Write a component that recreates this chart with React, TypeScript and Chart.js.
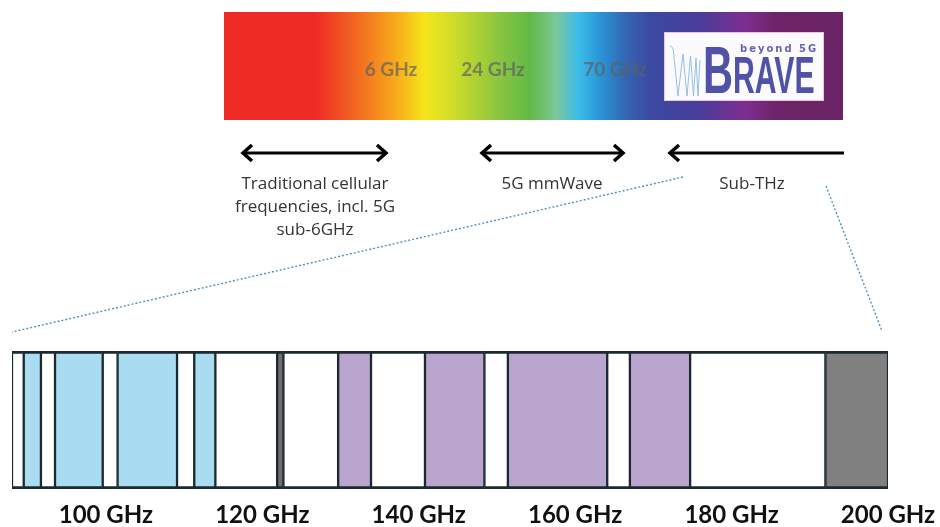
import React, { useEffect, useRef } from 'react';
import { Chart, registerables } from 'chart.js';

Chart.register(...registerables);

// ---- data ----
const bandEdges = [88, 89.5, 91.7, 93.5, 99.6, 101.5, 109.1, 111.3, 114.0, 121.9, 122.7, 129.7, 133.9, 140.8, 148.4, 151.4, 164.1, 167.0, 174.7, 192.0, 200];
const bandKinds = ['free', 'blue', 'free', 'blue', 'free', 'blue', 'free', 'blue', 'free', 'dark', 'free', 'purple', 'free', 'purple', 'free', 'purple', 'free', 'purple', 'free', 'gray'];
const tickValues = [100, 120, 140, 160, 180, 200];
const spectrumLabels = ['6 GHz', '24 GHz', '70 GHz'];
const rangeLabels = [['Traditional cellular', 'frequencies, incl. 5G', 'sub-6GHz'], ['5G mmWave'], ['Sub-THz']];

// ---- styles ----
const kindFill: Record<string, string> = {
  free: '#ffffff',
  blue: '#a9dcf1',
  purple: '#baa5cf',
  gray: '#808080',
  dark: '#6f6f6f',
};
const borderCol = '#1b2a30';

const gradStops: [number, string][] = [
  [224, '#ee2a24'], [315, '#ee2a24'], [358, '#f26b22'], [395, '#f8a81b'], [425, '#f5e61a'],
  [460, '#c6d92d'], [500, '#88c540'], [530, '#62b946'], [556, '#7dc79a'], [578, '#3cbde9'],
  [600, '#2a95d5'], [625, '#3467b3'], [650, '#3b4aa0'], [700, '#4a3c9a'], [745, '#7d2e90'],
  [775, '#6e2468'], [843, '#6a2466'],
];

const topPlugin = {
  id: 'topGraphic',
  afterDraw(chart: any) {
    const ctx: CanvasRenderingContext2D = chart.ctx;
    ctx.save();
    // rainbow
    const x0 = 224, x1 = 843, y0 = 12, y1 = 120;
    const g = ctx.createLinearGradient(x0, 0, x1, 0);
    gradStops.forEach(([x, c]) => g.addColorStop((x - x0) / (x1 - x0), c));
    ctx.fillStyle = g;
    ctx.fillRect(x0, y0, x1 - x0, y1 - y0);

    // frequency labels on rainbow
    ctx.font = 'bold 19px Lato';
    ctx.textAlign = 'center';
    ctx.textBaseline = 'middle';
    ctx.fillStyle = 'rgba(95,95,95,0.7)';
    const lx = [391, 493, 615];
    spectrumLabels.forEach((t, i) => ctx.fillText(t, lx[i], 70));

    // logo box
    ctx.fillStyle = '#fbfbfd';
    ctx.fillRect(664, 32, 160, 69);
    ctx.strokeStyle = '#efc3e2';
    ctx.lineWidth = 1;
    ctx.strokeRect(664.5, 32.5, 159, 68);
    // chirp wave
    ctx.strokeStyle = '#8ab8e0';
    ctx.lineWidth = 0.9;
    ctx.beginPath();
    ctx.moveTo(670, 46);
    ctx.quadraticCurveTo(673, 46, 673.5, 52);
    const xs = [673.5, 678, 683, 687, 690.5, 693.5, 696, 698, 700];
    for (let i = 1; i < xs.length; i++) {
      ctx.lineTo(xs[i], i % 2 === 1 ? 96 : 52 + i);
    }
    ctx.stroke();
    // beyond 5G
    ctx.fillStyle = '#6464b4';
    ctx.font = 'bold 10px "DejaVu Sans"';
    ctx.textAlign = 'left';
    ctx.textBaseline = 'alphabetic';
    (ctx as any).letterSpacing = '2px';
    ctx.fillText('beyond 5G', 740, 52);
    (ctx as any).letterSpacing = '0px';
    // BRAVE
    ctx.fillStyle = '#5052a8';
    ctx.save();
    ctx.translate(703, 93);
    ctx.scale(0.62, 1);
    ctx.font = 'bold 67px "Liberation Sans"';
    ctx.fillText('B', 0, 0);
    ctx.restore();
    ctx.save();
    ctx.translate(733, 93);
    ctx.scale(0.58, 1);
    ctx.font = 'bold 52px "Liberation Sans"';
    ctx.fillText('RAVE', 0, 0);
    ctx.restore();

    // arrows
    ctx.strokeStyle = '#000';
    ctx.lineWidth = 3;
    ctx.lineCap = 'butt';
    ctx.lineJoin = 'miter';
    const ay = 153;
    const arrows: [number, number, boolean, boolean][] = [[241, 388, true, true], [480, 625, true, true], [668, 844, true, false]];
    arrows.forEach(([a, b, hl, hr]) => {
      ctx.beginPath();
      ctx.moveTo(a + 2, ay);
      ctx.lineTo(hr ? b - 2 : b, ay);
      ctx.stroke();
      ctx.lineWidth = 3.5;
      if (hl) {
        ctx.beginPath();
        ctx.moveTo(a + 11, ay - 8);
        ctx.lineTo(a + 2, ay);
        ctx.lineTo(a + 11, ay + 8);
        ctx.stroke();
      }
      if (hr) {
        ctx.beginPath();
        ctx.moveTo(b - 11, ay - 8);
        ctx.lineTo(b - 2, ay);
        ctx.lineTo(b - 11, ay + 8);
        ctx.stroke();
      }
      ctx.lineWidth = 3;
    });

    // range texts
    ctx.fillStyle = '#333333';
    ctx.font = '17px "Open Sans"';
    ctx.textAlign = 'center';
    ctx.textBaseline = 'middle';
    const tx = [315, 552, 752];
    rangeLabels.forEach((lines, i) => {
      lines.forEach((ln, j) => ctx.fillText(ln, tx[i], 184 + j * 23));
    });

    // dotted zoom lines
    ctx.strokeStyle = '#4f93bd';
    ctx.lineWidth = 1.4;
    ctx.setLineDash([2, 2]);
    ctx.beginPath();
    ctx.moveTo(683, 177);
    ctx.lineTo(12, 332);
    ctx.moveTo(826, 186);
    ctx.lineTo(882, 331);
    ctx.stroke();
    ctx.setLineDash([]);
    ctx.restore();
  },
};

export default function App() {
  const ref = useRef<HTMLCanvasElement | null>(null);
  useEffect(() => {
    if (!ref.current) return;
    const datasets = bandKinds.map((k, i) => ({
      label: k,
      data: [[bandEdges[i], bandEdges[i + 1]]] as any,
      backgroundColor: kindFill[k],
      borderColor: borderCol,
      borderWidth: { top: 3, bottom: 3, left: 1.5, right: 1.5 },
      borderSkipped: false as any,
      grouped: false,
      barPercentage: 1,
      categoryPercentage: 1,
    }));
    const chart = new Chart(ref.current, {
      type: 'bar',
      data: { labels: ['band'], datasets },
      options: {
        indexAxis: 'y',
        responsive: false,
        animation: false,
        layout: { padding: { left: 12, right: 52, top: 351, bottom: 0 } },
        plugins: { legend: { display: false }, tooltip: { enabled: false } },
        scales: {
          y: { type: 'category', display: false },
          x: {
            type: 'linear',
            min: 88,
            max: 200,
            afterBuildTicks: (s: any) => {
              s.ticks = tickValues.map((v) => ({ value: v }));
            },
            afterFit: (s: any) => {
              s.height = 38;
              s.paddingLeft = 0;
              s.paddingRight = 0;
            },
            grid: { display: false, drawTicks: false },
            border: { display: false },
            ticks: {
              autoSkip: false,
              maxRotation: 0,
              padding: 12,
              color: '#111',
              font: { family: 'Lato', weight: 'bold', size: 24 },
              callback: (v: any) => `${v} GHz`,
            },
          },
        },
      },
      plugins: [topPlugin],
    });
    return () => chart.destroy();
  }, []);
  return (
    <div style={{ position: 'absolute', left: 0, top: 0, width: 940, height: 527, background: '#fff' }}>
      <canvas ref={ref} width={940} height={527} />
    </div>
  );
}
